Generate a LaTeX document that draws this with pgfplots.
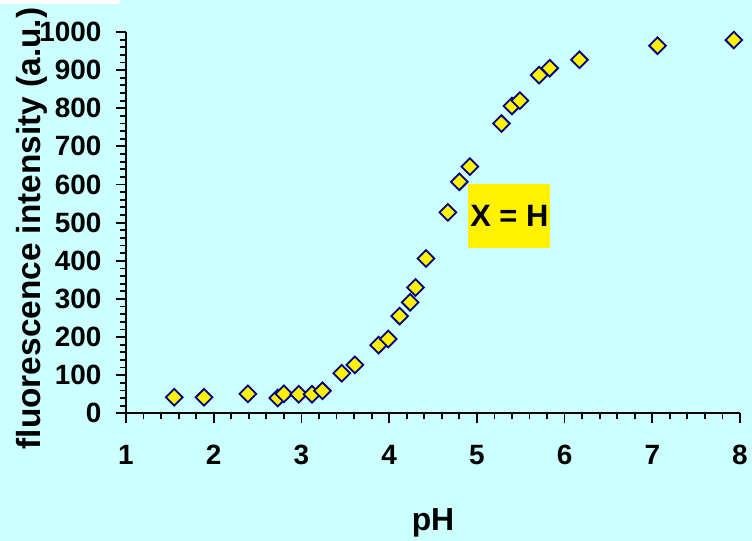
\documentclass[border=0pt]{standalone}
\usepackage{pgfplots}
\pgfplotsset{compat=1.18}
\usepackage{fontspec}
\setmainfont{Liberation Sans}
\definecolor{bgc}{HTML}{CCFFFF}
\definecolor{navyc}{HTML}{000080}
\begin{document}
\begin{tikzpicture}
\path[fill=bgc, use as bounding box] (-126bp,-127.7bp) rectangle (626bp,413.3bp);
\fill[white] (-126bp,409.3bp) rectangle (-6bp,413.3bp);
\begin{axis}[
  at={(0,0)}, anchor=south west,
  width=614bp, height=381.3bp, scale only axis,
  xmin=1, xmax=8, ymin=0, ymax=1000,
  axis lines*=left,
  axis line style={line width=1.8bp},
  tick align=outside,
  xtick={1,2,...,8}, ytick={0,100,...,1000},
  minor x tick num=4, minor y tick num=4,
  major tick length=10bp, minor tick length=6bp,
  every tick/.style={black, line width=1.8bp},
  /pgf/number format/1000 sep={},
  /pgf/number format/assume math mode=true,
  tick label style={font=\fontsize{28}{30}\selectfont\bfseries},
  yticklabel style={anchor=east, xshift=-11bp},
  xticklabel style={anchor=north, yshift=-18bp},
  xlabel={pH},
  ylabel={fluorescence intensity (a.u.)},
  label style={font=\fontsize{33.5}{35}\selectfont\bfseries},
  xlabel style={at={(axis description cs:0.5,-0.2885)}, anchor=center, font=\fontsize{32}{34}\selectfont\bfseries},
  ylabel style={at={(axis description cs:-0.153,0.4847)}, anchor=center},
  clip=false,
]
\addplot[only marks, mark=square*, mark size=5.9bp,
  mark options={rotate=45, fill=yellow, draw=navyc, line width=1.8bp}]
  table {
x y
1.55 42
1.89 42
2.39 51
2.73 40
2.80 51
2.97 50
3.12 50
3.24 59
3.46 105
3.61 127
3.88 179
3.99 195
4.12 255
4.24 291
4.30 330
4.42 406
4.67 527
4.80 607
4.92 647
5.28 760
5.40 806
5.49 820
5.71 887
5.83 905
6.17 927
7.06 964
7.93 979
};
\node[fill=yellow, minimum width=81.7bp, minimum height=63.7bp, inner sep=0pt,
  font=\fontsize{31}{33}\selectfont\bfseries] at (axis cs:5.37,518) {X = H};
\end{axis}
\end{tikzpicture}
\end{document}
